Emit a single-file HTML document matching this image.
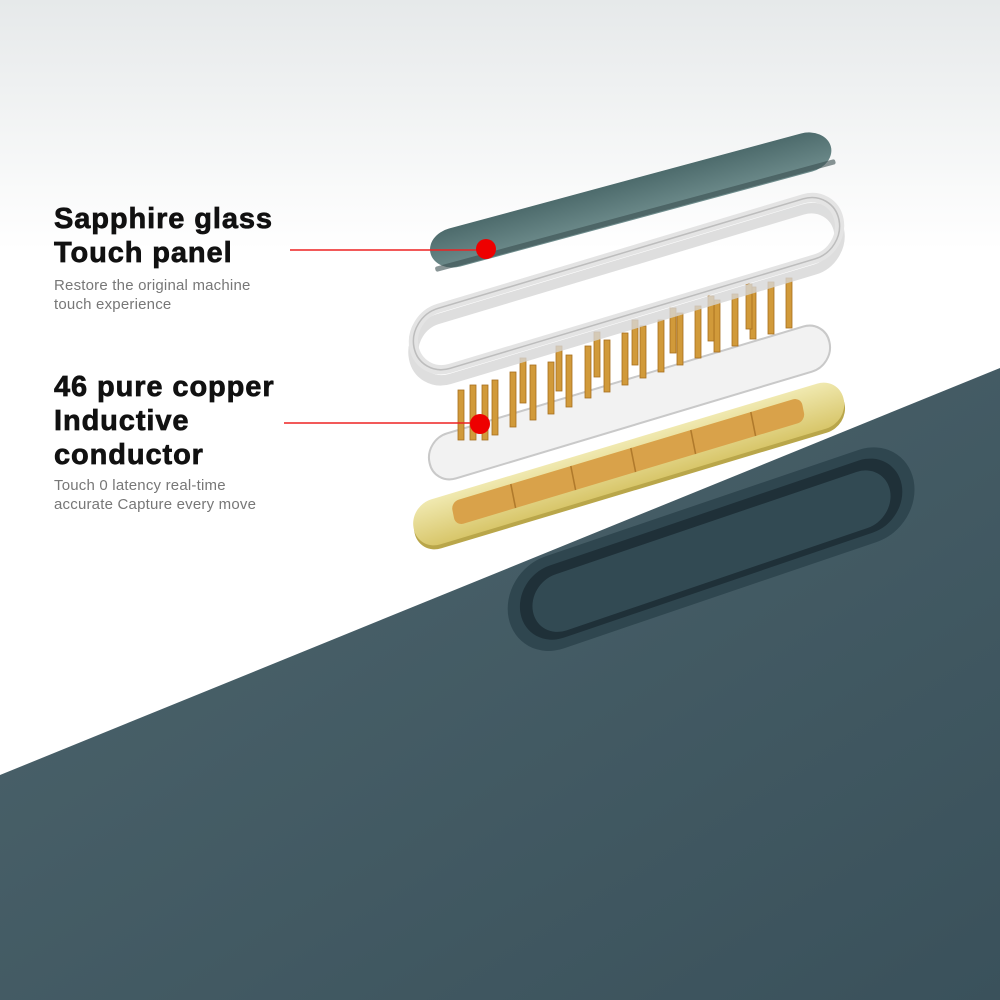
<!DOCTYPE html>
<html><head><style>
body{margin:0;width:1000px;height:1000px;overflow:hidden;background:#fff;font-family:"Liberation Sans",sans-serif}
.h{position:absolute;left:54px;font-weight:bold;font-size:29px;color:#111;line-height:34px;letter-spacing:0.9px;-webkit-text-stroke:0.7px #111}
.s{position:absolute;left:54px;font-size:15px;color:#777;line-height:19px;letter-spacing:0.2px}
</style></head><body>
<svg width="1000" height="1000" style="position:absolute;left:0;top:0">
<defs>
<linearGradient id="bg" x1="0" y1="0" x2="0" y2="1"><stop offset="0" stop-color="#e6e9ea"/><stop offset="0.25" stop-color="#fff"/></linearGradient>
<linearGradient id="body" x1="0" y1="0" x2="1" y2="1"><stop offset="0" stop-color="#4d656d"/><stop offset="1" stop-color="#3a515b"/></linearGradient>
<linearGradient id="teal" x1="0" y1="0" x2="0" y2="1"><stop offset="0" stop-color="#4d6b6c"/><stop offset="1" stop-color="#6e8c8c"/></linearGradient>
<linearGradient id="gold" x1="0" y1="0" x2="0" y2="1"><stop offset="0" stop-color="#f0e9b0"/><stop offset="1" stop-color="#d8c66a"/></linearGradient>
</defs>
<rect width="1000" height="1000" fill="url(#bg)"/>
<polygon points="0,775 1000,368 1000,1000 0,1000" fill="url(#body)"/>
<g transform="matrix(1,-0.34,0.2,1,505,600)">
<rect x="0" y="-28" width="405" height="92" rx="46" fill="#2f464f"/>
<rect x="12" y="-18" width="381" height="72" rx="36" fill="#1f3038"/>
<rect x="24" y="-8" width="357" height="56" rx="28" fill="#324a53"/>
</g>
<g transform="matrix(1,-0.3,0.2,1,410,510)">
<rect x="0" y="0" width="430" height="45" rx="22" fill="#b9a64a"/>
<rect x="0" y="-4" width="430" height="45" rx="22" fill="url(#gold)"/>
<rect x="40" y="4" width="350" height="24" rx="8" fill="#d9a24a"/>
<g stroke="#b07a2c" stroke-width="1.5">
<line x1="100" y1="4" x2="100" y2="28"/><line x1="160" y1="4" x2="160" y2="28"/><line x1="220" y1="4" x2="220" y2="28"/><line x1="280" y1="4" x2="280" y2="28"/><line x1="340" y1="4" x2="340" y2="28"/>
</g>
</g>
<g transform="matrix(1,-0.3,0.2,1,425,440)">
<rect x="0" y="0" width="400" height="45" rx="22" fill="#f2f2f2" stroke="#c9c9c9" stroke-width="2"/>
</g>
<g fill="#d19a3a" stroke="#a86f1e" stroke-width="0.8">
<rect x="458" y="390" width="6" height="50"/><rect x="470" y="385" width="6" height="55"/><rect x="482" y="385" width="6" height="55"/><rect x="492" y="380" width="6" height="55"/>
<rect x="510" y="372" width="6" height="55"/><rect x="530" y="365" width="6" height="55"/><rect x="548" y="362" width="6" height="52"/><rect x="566" y="355" width="6" height="52"/>
<rect x="585" y="346" width="6" height="52"/><rect x="604" y="340" width="6" height="52"/><rect x="622" y="333" width="6" height="52"/><rect x="640" y="326" width="6" height="52"/>
<rect x="658" y="320" width="6" height="52"/><rect x="677" y="313" width="6" height="52"/><rect x="695" y="306" width="6" height="52"/><rect x="714" y="300" width="6" height="52"/>
<rect x="732" y="294" width="6" height="52"/><rect x="750" y="287" width="6" height="52"/><rect x="768" y="282" width="6" height="52"/><rect x="786" y="278" width="6" height="50"/>
<rect x="520" y="358" width="6" height="45"/><rect x="556" y="346" width="6" height="45"/><rect x="594" y="332" width="6" height="45"/><rect x="632" y="320" width="6" height="45"/><rect x="670" y="308" width="6" height="45"/><rect x="708" y="296" width="6" height="45"/><rect x="746" y="284" width="6" height="45"/>
</g>
<g transform="matrix(1,-0.3,0.2,1,406,318)" fill="none">
<rect x="0" y="10" width="425" height="60" rx="30" stroke="#d6d6d6" stroke-width="10" opacity="0.8"/>
<rect x="2" y="0" width="425" height="60" rx="30" stroke="#e4e4e4" stroke-width="9"/>
<rect x="2" y="0" width="425" height="60" rx="30" stroke="#bdbdbd" stroke-width="1.5"/>
</g>
<g transform="matrix(1,-0.27,0.3,1,425,235)">
<rect x="0" y="0" width="400" height="38" rx="24" fill="url(#teal)"/>
<rect x="0" y="32" width="400" height="5" rx="2" fill="#3a4f50" opacity="0.6"/>
</g>
<line x1="290" y1="250" x2="480" y2="250" stroke="#e22" stroke-width="1.5"/>
<circle cx="486" cy="249" r="10" fill="#e00"/>
<line x1="284" y1="423" x2="472" y2="423" stroke="#e22" stroke-width="1.5"/>
<circle cx="480" cy="424" r="10" fill="#e00"/>
</svg>
<div class="h" style="top:202px">Sapphire glass<br>Touch panel</div>
<div class="s" style="top:276px">Restore the original machine<br>touch experience</div>
<div class="h" style="top:370px">46 pure copper<br>Inductive<br>conductor</div>
<div class="s" style="top:476px">Touch 0 latency real-time<br>accurate Capture every move</div>
</body></html>
